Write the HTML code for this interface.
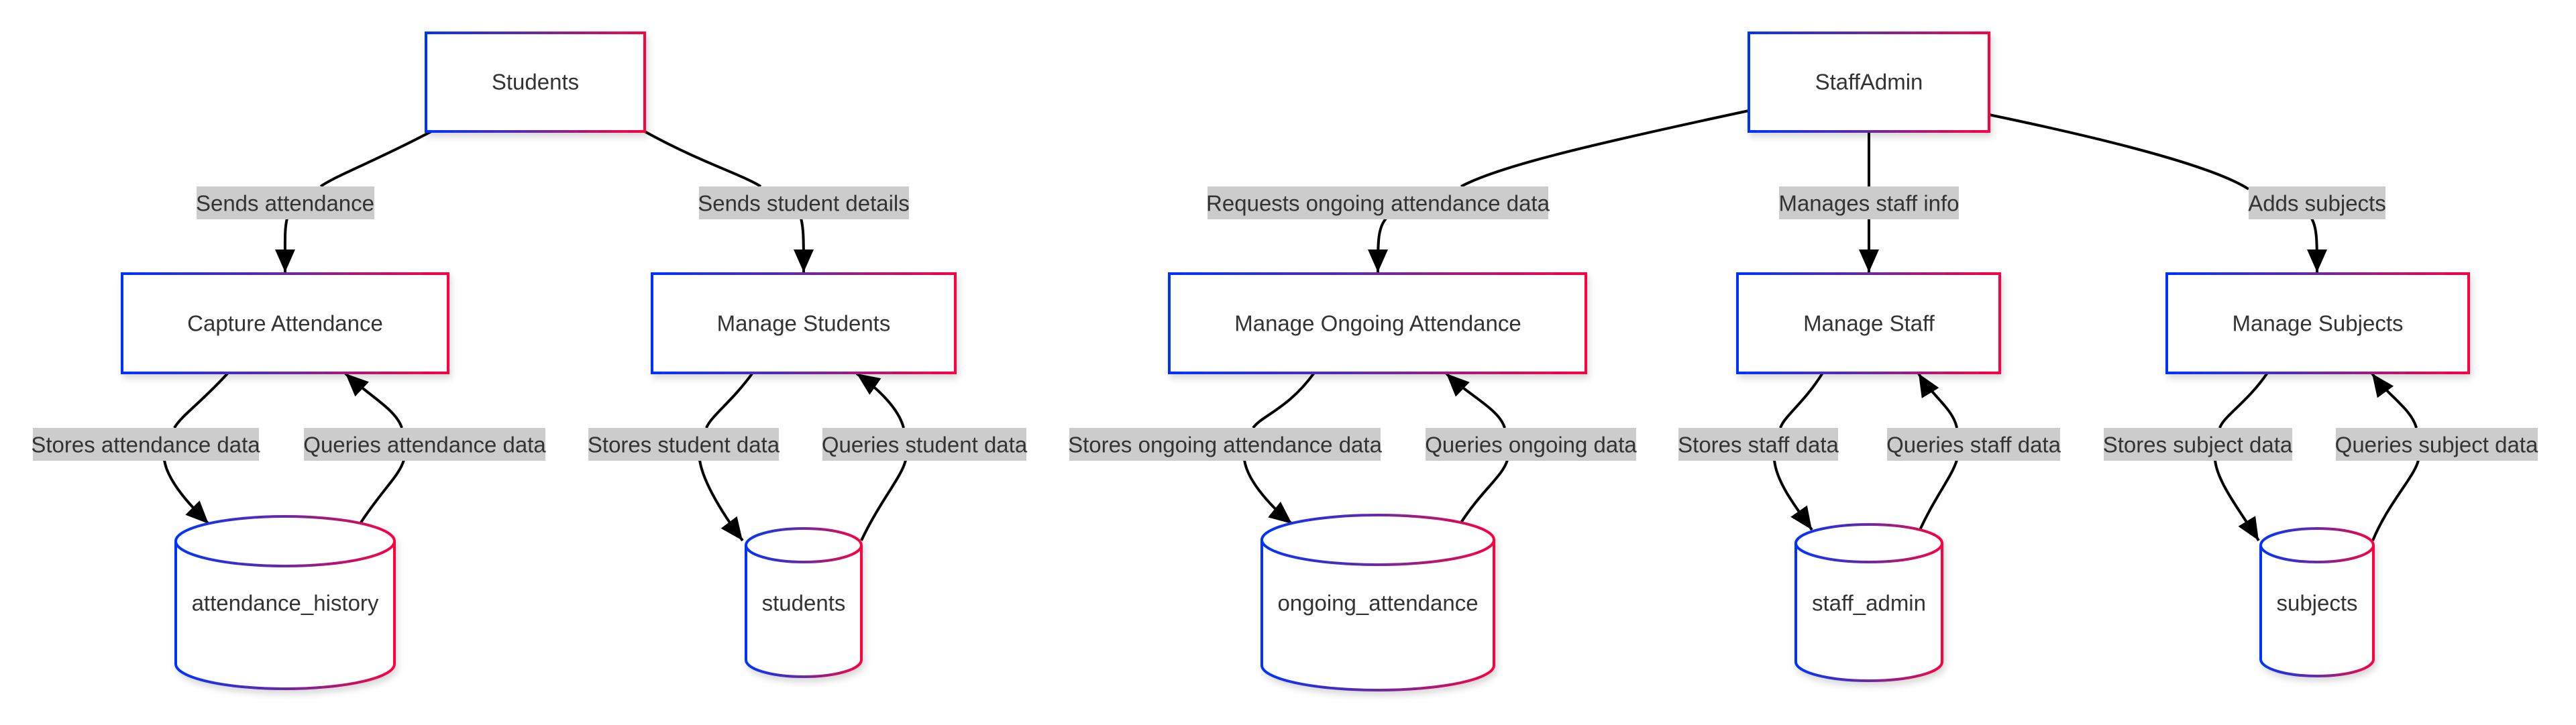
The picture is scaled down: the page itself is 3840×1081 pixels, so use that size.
<!DOCTYPE html>
<html><head><meta charset="utf-8"><style>
html,body{margin:0;padding:0;background:#fff;}
svg{display:block;}
text{font-family:"Liberation Sans",Arial,sans-serif;font-size:33px;fill:#333;text-anchor:middle;dominant-baseline:central;}
.e{fill:none;stroke:#000;stroke-width:4;}
.n{fill:#fff;stroke:url(#g);stroke-width:4;filter:url(#sh);}
.c{fill:#fff;stroke:url(#g);stroke-width:4;}
.l{fill:#ccc;}
</style></head><body>
<svg width="3840" height="1081" viewBox="0 0 3840 1081" xmlns="http://www.w3.org/2000/svg">
<defs>
<linearGradient id="g" x1="0" y1="0" x2="1" y2="0"><stop offset="0" stop-color="#0033ff"/><stop offset="0.5" stop-color="#6a2aa0"/><stop offset="1" stop-color="#ff0040"/></linearGradient>
<filter id="sh" x="-10%" y="-10%" width="120%" height="130%"><feDropShadow dx="3" dy="6" stdDeviation="5" flood-color="#000" flood-opacity="0.15"/></filter>
<marker id="a" markerUnits="userSpaceOnUse" markerWidth="40" markerHeight="40" refX="34" refY="15" orient="auto"><path d="M0,0 L34,15 L0,30 Z" fill="#000"/></marker>
</defs>

<path class="e" d="M643,196 C560,240 500,262 478,278"/>
<path class="e" marker-end="url(#a)" d="M428,326 C424,340 425,360 425,406"/>
<path class="e" d="M961,196 C1040,240 1110,262 1134,278"/>
<path class="e" marker-end="url(#a)" d="M1194,326 C1198,340 1198,360 1198,406"/>

<path class="e" d="M340,556 C300,600 270,620 260,638"/>
<path class="e" marker-end="url(#a)" d="M245,686 C250,720 290,760 311,781"/>
<path class="e" d="M538,779 C570,730 595,710 602,686"/>
<path class="e" marker-end="url(#a)" d="M599,638 C590,610 550,590 515,557"/>

<path class="e" d="M1122,556 C1090,600 1060,620 1053,638"/>
<path class="e" marker-end="url(#a)" d="M1043,686 C1048,720 1080,770 1107,806"/>
<path class="e" d="M1284,806 C1310,750 1345,710 1350,686"/>
<path class="e" marker-end="url(#a)" d="M1347,638 C1340,610 1310,580 1277,557"/>

<path class="e" d="M2607,165 C2350,220 2230,250 2178,278"/>
<path class="e" marker-end="url(#a)" d="M2066,326 C2054,340 2054,360 2054,406"/>
<path class="e" marker-end="url(#a)" d="M2786,196 L2786,406"/>
<path class="e" d="M2965,171 C3200,220 3310,255 3352,282"/>
<path class="e" marker-end="url(#a)" d="M3446,326 C3454,340 3454,360 3454,406"/>

<path class="e" d="M1959,556 C1920,610 1880,620 1868,638"/>
<path class="e" marker-end="url(#a)" d="M1855,686 C1860,720 1900,760 1926,781"/>
<path class="e" d="M2178,779 C2210,730 2240,710 2247,686"/>
<path class="e" marker-end="url(#a)" d="M2243,638 C2235,610 2190,590 2156,557"/>

<path class="e" d="M2717,556 C2690,600 2660,620 2654,638"/>
<path class="e" marker-end="url(#a)" d="M2645,686 C2648,720 2680,760 2701,790"/>
<path class="e" d="M2862,790 C2885,740 2910,710 2917,686"/>
<path class="e" marker-end="url(#a)" d="M2917,638 C2912,610 2880,590 2860,557"/>

<path class="e" d="M3380,556 C3350,600 3315,620 3309,638"/>
<path class="e" marker-end="url(#a)" d="M3302,686 C3305,720 3345,770 3367,806"/>
<path class="e" d="M3537,806 C3560,750 3600,710 3605,686"/>
<path class="e" marker-end="url(#a)" d="M3602,638 C3595,610 3560,590 3536,557"/>

<rect class="n" x="635" y="49" width="326" height="147"/><text x="798" y="122">Students</text>
<rect class="n" x="2607" y="49" width="358" height="147"/><text x="2786" y="122">StaffAdmin</text>
<rect class="n" x="182" y="408" width="486" height="148"/><text x="425" y="482">Capture Attendance</text>
<rect class="n" x="972" y="408" width="452" height="148"/><text x="1198" y="482">Manage Students</text>
<rect class="n" x="1743" y="408" width="621" height="148"/><text x="2054" y="482">Manage Ongoing Attendance</text>
<rect class="n" x="2590" y="408" width="391" height="148"/><text x="2786" y="482">Manage Staff</text>
<rect class="n" x="3230" y="408" width="450" height="148"/><text x="3455" y="482">Manage Subjects</text>

<g filter="url(#sh)">
<path class="c" d="M262,807 A163,37 0 0 1 588,807 L588,990 A163,37 0 0 1 262,990 Z"/>
<path class="c" d="M262,807 A163,37 0 0 0 588,807"/>
<path class="c" d="M1112,813 A86,25 0 0 1 1284,813 L1284,984 A86,25 0 0 1 1112,984 Z"/>
<path class="c" d="M1112,813 A86,25 0 0 0 1284,813"/>
<path class="c" d="M1881,805 A173,37 0 0 1 2227,805 L2227,992 A173,37 0 0 1 1881,992 Z"/>
<path class="c" d="M1881,805 A173,37 0 0 0 2227,805"/>
<path class="c" d="M2677,810 A109,28 0 0 1 2895,810 L2895,987 A109,28 0 0 1 2677,987 Z"/>
<path class="c" d="M2677,810 A109,28 0 0 0 2895,810"/>
<path class="c" d="M3370,813 A84,25 0 0 1 3538,813 L3538,983 A84,25 0 0 1 3370,983 Z"/>
<path class="c" d="M3370,813 A84,25 0 0 0 3538,813"/>
</g>
<text x="425" y="899">attendance_history</text>
<text x="1198" y="899">students</text>
<text x="2054" y="899">ongoing_attendance</text>
<text x="2786" y="899">staff_admin</text>
<text x="3454" y="899">subjects</text>

<rect class="l" x="293" y="278" width="265" height="49"/><text x="425" y="303">Sends attendance</text>
<rect class="l" x="1042" y="278" width="313" height="49"/><text x="1198" y="303">Sends student details</text>
<rect class="l" x="1800" y="278" width="508" height="49"/><text x="2054" y="303">Requests ongoing attendance data</text>
<rect class="l" x="2652" y="278" width="268" height="49"/><text x="2786" y="303">Manages staff info</text>
<rect class="l" x="3352" y="278" width="204" height="49"/><text x="3454" y="303">Adds subjects</text>

<rect class="l" x="49" y="638" width="337" height="49"/><text x="217" y="663">Stores attendance data</text>
<rect class="l" x="453" y="638" width="360" height="49"/><text x="633" y="663">Queries attendance data</text>
<rect class="l" x="877" y="638" width="284" height="49"/><text x="1019" y="663">Stores student data</text>
<rect class="l" x="1226" y="638" width="304" height="49"/><text x="1378" y="663">Queries student data</text>
<rect class="l" x="1594" y="638" width="464" height="49"/><text x="1826" y="663">Stores ongoing attendance data</text>
<rect class="l" x="2125" y="638" width="314" height="49"/><text x="2282" y="663">Queries ongoing data</text>
<rect class="l" x="2502" y="638" width="238" height="49"/><text x="2621" y="663">Stores staff data</text>
<rect class="l" x="2813" y="638" width="258" height="49"/><text x="2942" y="663">Queries staff data</text>
<rect class="l" x="3136" y="638" width="281" height="49"/><text x="3276" y="663">Stores subject data</text>
<rect class="l" x="3482" y="638" width="301" height="49"/><text x="3632" y="663">Queries subject data</text>
</svg>
</body></html>
